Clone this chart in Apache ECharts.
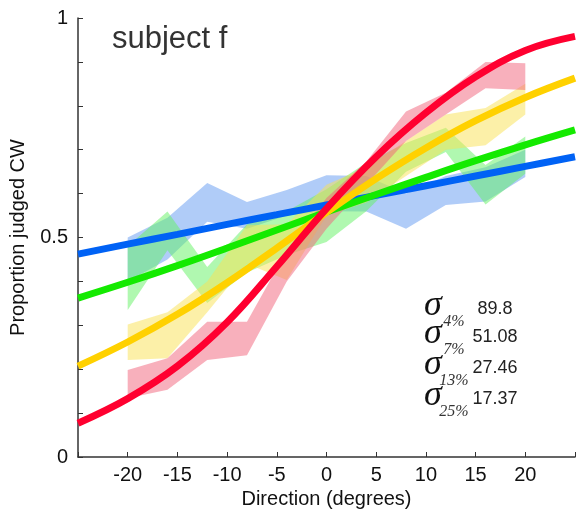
<!DOCTYPE html>
<html>
<head>
<meta charset="utf-8">
<script src="https://cdn.jsdelivr.net/npm/echarts@6/dist/echarts.min.js"></script>
<style>
html,body{margin:0;padding:0;background:#fff;}
#chart{width:578px;height:515px;}
</style>
</head>
<body>
<div id="chart"></div>
<script>
// ---- data ----
const directions = [-20, -16, -12, -8, -4, 0, 4, 8, 12, 16, 20];

const blueLow   = [0.40, 0.45, 0.536, 0.52, 0.55, 0.56, 0.559, 0.52, 0.574, 0.582, 0.638];
const blueHigh  = [0.50, 0.545, 0.624, 0.581, 0.608, 0.642, 0.64, 0.60, 0.64, 0.66, 0.70];
const greenLow  = [0.335, 0.471, 0.351, 0.42, 0.46, 0.49, 0.56, 0.65, 0.695, 0.575, 0.645];
const greenHigh = [0.48, 0.559, 0.433, 0.53, 0.56, 0.61, 0.67, 0.715, 0.75, 0.665, 0.73];
const yellowLow = [0.221, 0.225, 0.33, 0.44, 0.403, 0.55, 0.58, 0.64, 0.70, 0.71, 0.78];
const yellowHigh= [0.302, 0.33, 0.40, 0.528, 0.53, 0.62, 0.66, 0.72, 0.78, 0.795, 0.85];
const redLow    = [0.134, 0.153, 0.221, 0.232, 0.40, 0.52, 0.62, 0.72, 0.78, 0.84, 0.836];
const redHigh   = [0.198, 0.225, 0.308, 0.308, 0.47, 0.59, 0.673, 0.787, 0.83, 0.90, 0.897];

const fitX      = [-25, -20, -15, -10, -5, 0, 5, 10, 15, 20, 25];
const fitBlue   = [0.462, 0.485, 0.507, 0.53, 0.552, 0.574, 0.596, 0.618, 0.64, 0.662, 0.684];
const fitGreen  = [0.362, 0.398, 0.436, 0.476, 0.517, 0.558, 0.598, 0.637, 0.675, 0.711, 0.745];
const fitYellow = [0.207, 0.262, 0.325, 0.397, 0.476, 0.557, 0.634, 0.704, 0.766, 0.819, 0.863];
const fitRed    = [0.077, 0.133, 0.207, 0.307, 0.434, 0.566, 0.684, 0.784, 0.866, 0.926, 0.958];

const sigmaLabels = ['4%', '7%', '13%', '25%'];
const sigmaValues = ['89.8', '51.08', '27.46', '17.37'];

const yTickLabels = {0: '0', 0.5: '0.5', 1: '1'};

// ---- chart ----
const chart = echarts.init(document.getElementById('chart'), null, {renderer: 'canvas'});
const SANS = '"Liberation Sans", Arial, Helvetica, sans-serif';
const SERIF = '"Liberation Serif", "Times New Roman", serif';

function band(low, high, fill, z) {
  return {
    type: 'custom',
    silent: true,
    z: z,
    data: [0],
    renderItem: function (params, api) {
      const pts = [];
      for (let i = 0; i < directions.length; i++) pts.push(api.coord([directions[i], high[i]]));
      for (let i = directions.length - 1; i >= 0; i--) pts.push(api.coord([directions[i], low[i]]));
      return {type: 'polygon', shape: {points: pts}, style: {fill: fill}};
    }
  };
}

function fit(values, color, z) {
  return {
    type: 'line',
    silent: true,
    z: z,
    smooth: 0.4,
    showSymbol: false,
    data: fitX.map((x, i) => [x, values[i]]),
    lineStyle: {color: color, width: 7, cap: 'butt'}
  };
}

const graphics = [{
  type: 'text', left: 112, top: 24,
  style: {text: 'subject f', font: '31px ' + SANS, fill: '#333'}
}];
const rowY = [309, 337, 368, 399];
for (let i = 0; i < 4; i++) {
  graphics.push({type: 'text', x: 433, y: rowY[i] - 3, style: {text: 'σ', font: 'italic 36px ' + SERIF, fill: '#111', textAlign: 'center', textVerticalAlign: 'middle'}});
  graphics.push({type: 'text', x: 454, y: rowY[i] + 13, style: {text: sigmaLabels[i], font: 'italic 16px ' + SERIF, fill: '#333', textAlign: 'center', textVerticalAlign: 'middle'}});
  graphics.push({type: 'text', x: 495, y: rowY[i], style: {text: sigmaValues[i], font: '18px ' + SANS, fill: '#222', textAlign: 'center', textVerticalAlign: 'middle'}});
}

chart.setOption({
  animation: false,
  backgroundColor: '#fff',
  grid: {left: 77, right: 1, top: 18, bottom: 58},
  xAxis: {
    type: 'value', min: -25, max: 25, interval: 5,
    name: 'Direction (degrees)', nameLocation: 'middle', nameGap: 28,
    nameTextStyle: {fontFamily: SANS, fontSize: 20, color: '#111'},
    axisLine: {show: true, onZero: false, lineStyle: {color: '#333', width: 1.5}},
    axisTick: {show: true, inside: true, length: 5, lineStyle: {color: '#333', width: 1}},
    axisLabel: {
      margin: 8, fontFamily: SANS, fontSize: 20, color: '#111',
      formatter: v => (v <= -25 || v >= 25) ? '' : String(v)
    },
    splitLine: {show: false}
  },
  yAxis: {
    type: 'value', min: 0, max: 1, interval: 0.1,
    name: 'Proportion judged CW', nameLocation: 'middle', nameGap: 50, nameRotate: 90,
    nameTextStyle: {fontFamily: SANS, fontSize: 20, color: '#111'},
    axisLine: {show: true, onZero: false, lineStyle: {color: '#333', width: 1.5}},
    axisTick: {show: true, inside: true, length: 5, lineStyle: {color: '#333', width: 1}},
    axisLabel: {
      margin: 10, fontFamily: SANS, fontSize: 20, color: '#111',
      formatter: function (v) {
        for (const k in yTickLabels) { if (Math.abs(v - Number(k)) < 1e-6) return yTickLabels[k]; }
        return '';
      }
    },
    splitLine: {show: false}
  },
  graphic: graphics,
  series: [
    band(blueLow, blueHigh, 'rgba(97,153,241,0.5)', 1),
    band(greenLow, greenHigh, 'rgba(97,241,97,0.5)', 1),
    band(yellowLow, yellowHigh, 'rgba(249,225,81,0.5)', 1),
    band(redLow, redHigh, 'rgba(241,97,121,0.5)', 1),
    fit(fitBlue, '#0062f5', 3),
    fit(fitGreen, '#14ea00', 3),
    fit(fitYellow, '#ffd100', 3),
    fit(fitRed, '#ff0030', 3)
  ]
});
</script>
</body>
</html>
